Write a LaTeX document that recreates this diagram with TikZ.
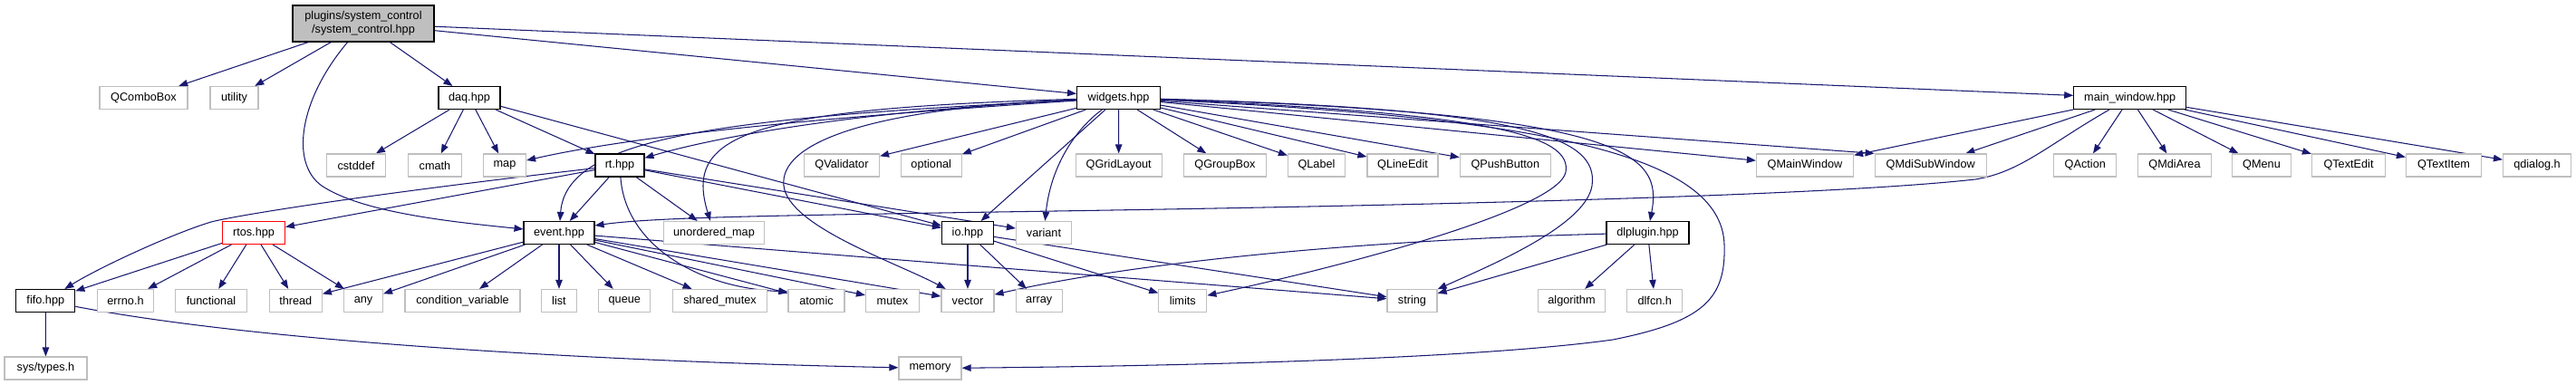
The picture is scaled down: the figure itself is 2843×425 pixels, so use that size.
\documentclass[tikz,border=0pt]{standalone}
\usepackage{fontspec}
\setmainfont{Liberation Sans}
\usetikzlibrary{arrows.meta,backgrounds}
\definecolor{edgeblue}{HTML}{191970}
\definecolor{extgray}{HTML}{BFBFBF}
\begin{document}
\begin{tikzpicture}[x=1pt,y=-1pt,
  box/.style={draw=black, line width=1.05pt, minimum height=25pt, inner sep=0pt, fill=white, font=\fontsize{12.7}{15}\selectfont},
  ext/.style={box, draw=extgray, line width=1.2pt},
  dep/.style={draw=edgeblue, line width=1.05pt, -{Triangle[length=10pt,width=7.5pt]}}]
\useasboundingbox (0,0) rectangle (2843,425);
% row 0
\node[box, fill=extgray, minimum width=156pt, minimum height=40pt, align=center] (root) at (401,26) {plugins/system\_control\\/system\_control.hpp};
% row 1
\node[ext, minimum width=97pt] (qcombo) at (158.5,108) {QComboBox};
\node[ext, minimum width=53pt] (utility) at (258.5,108) {utility};
\node[box, minimum width=68pt] (daq) at (518,108) {daq.hpp};
\node[box, minimum width=92pt] (widgets) at (1234.5,108) {widgets.hpp};
\node[box, minimum width=124pt] (mainwin) at (2350.7,108) {main\_window.hpp};
% row 2
\node[ext, minimum width=65pt] (cstddef) at (393,182.5) {cstddef};
\node[ext, minimum width=59pt] (cmath) at (480,182.5) {cmath};
\node[ext, minimum width=47pt] (map) at (557,182.5) {map};
\node[box, minimum width=54pt] (rt) at (684,182.5) {rt.hpp};
\node[ext, minimum width=83pt] (qvalid) at (929,182.5) {QValidator};
\node[ext, minimum width=67pt] (optional) at (1027.7,182.5) {optional};
\node[ext, minimum width=95pt] (qgrid) at (1234.7,182.5) {QGridLayout};
\node[ext, minimum width=91pt] (qgroup) at (1352,182.5) {QGroupBox};
\node[ext, minimum width=63pt] (qlabel) at (1453,182.5) {QLabel};
\node[ext, minimum width=78pt] (qline) at (1548,182.5) {QLineEdit};
\node[ext, minimum width=100pt] (qpush) at (1661.3,182.5) {QPushButton};
\node[ext, minimum width=107pt] (qmainw) at (1992,182.5) {QMainWindow};
\node[ext, minimum width=123pt] (qmdisub) at (2130.7,182.5) {QMdiSubWindow};
\node[ext, minimum width=69pt] (qaction) at (2301.3,182.5) {QAction};
\node[ext, minimum width=81pt] (qmdiarea) at (2400,182.5) {QMdiArea};
\node[ext, minimum width=65pt] (qmenu) at (2496,182.5) {QMenu};
\node[ext, minimum width=81pt] (qtextedit) at (2592,182.5) {QTextEdit};
\node[ext, minimum width=83pt] (qtextitem) at (2697,182.5) {QTextItem};
\node[ext, minimum width=75pt] (qdialog) at (2800,182.5) {qdialog.h};
% row 3
\node[box, draw=red, minimum width=69pt] (rtos) at (280,257) {rtos.hpp};
\node[box, minimum width=78pt] (event) at (617,257) {event.hpp};
\node[ext, minimum width=111pt] (umap) at (788,257) {unordered\_map};
\node[box, minimum width=57pt] (io) at (1068,257) {io.hpp};
\node[ext, minimum width=61pt] (variant) at (1152,257) {variant};
\node[box, minimum width=91pt] (dlplugin) at (1818.5,257) {dlplugin.hpp};
% row 4
\node[box, minimum width=65pt] (fifo) at (50.3,332) {fifo.hpp};
\node[ext, minimum width=62pt] (errno) at (138.5,332) {errno.h};
\node[ext, minimum width=79pt] (functional) at (233,332) {functional};
\node[ext, minimum width=58pt] (thread) at (326.3,332) {thread};
\node[ext, minimum width=43pt] (any) at (401,332) {any};
\node[ext, minimum width=127pt] (condvar) at (510.5,332) {condition\_variable};
\node[ext, minimum width=39pt] (list) at (617,332) {list};
\node[ext, minimum width=57pt] (queue) at (689.3,332) {queue};
\node[ext, minimum width=104pt] (shmutex) at (794.5,332) {shared\_mutex};
\node[ext, minimum width=62pt] (atomic) at (901,332) {atomic};
\node[ext, minimum width=59pt] (mutex) at (985,332) {mutex};
\node[ext, minimum width=58pt] (vector) at (1068,332) {vector};
\node[ext, minimum width=51pt] (array) at (1146.7,332) {array};
\node[ext, minimum width=53pt] (limits) at (1305.3,332) {limits};
\node[ext, minimum width=55pt] (string) at (1558.5,332) {string};
\node[ext, minimum width=74pt] (algorithm) at (1734.5,332) {algorithm};
\node[ext, minimum width=61pt] (dlfcn) at (1826.3,332) {dlfcn.h};
% row 5
\node[ext, minimum width=91pt] (systypes) at (50.5,406.5) {sys/types.h};
\node[ext, minimum width=69pt] (memory) at (1026.5,406.5) {memory};

\begin{pgfonlayer}{background}
% root
\draw[dep] (root) -- (qcombo);
\draw[dep] (root) -- (utility);
\draw[dep] (root) -- (daq);
\draw[dep] (root) -- (widgets);
\draw[dep] (root) -- (mainwin);
\draw[dep] (root) .. controls (330,110) and (320,180) .. (355,205) .. controls (400,235) and (500,245) .. (event);
% daq
\draw[dep] (daq) -- (cstddef);
\draw[dep] (daq) -- (cmath);
\draw[dep] (daq) -- (map);
\draw[dep] (daq) -- (rt);
\draw[dep] (daq) -- (io);
% widgets
\draw[dep] (widgets) .. controls (900,130) and (700,150) .. (map);
\draw[dep] (widgets) .. controls (800,130) and (625,150) .. (event);
\draw[dep] (widgets) .. controls (900,125) and (760,160) .. (rt);
\draw[dep] (widgets) .. controls (820,120) and (755,150) .. (umap);
\draw[dep] (widgets) -- (qvalid);
\draw[dep] (widgets) -- (optional);
\draw[dep] (widgets) -- (io);
\draw[dep] (widgets) .. controls (1190,140) and (1160,180) .. (variant);
\draw[dep] (widgets) -- (qgrid);
\draw[dep] (widgets) -- (qgroup);
\draw[dep] (widgets) -- (qlabel);
\draw[dep] (widgets) -- (qline);
\draw[dep] (widgets) -- (qpush);
\draw[dep] (widgets) -- (qmainw);
\draw[dep] (widgets) -- (qmdisub.north west);
\draw[dep] (widgets) .. controls (1800,125) and (1835,170) .. (dlplugin);
\draw[dep] (widgets) .. controls (1650,125) and (1735,150) .. (1728,190) .. controls (1720,230) and (1500,290) .. (limits);
\draw[dep] (widgets) .. controls (1680,120) and (1765,150) .. (1757,205) .. controls (1750,250) and (1640,295) .. (string);
\draw[dep] (widgets) .. controls (1700,130) and (1900,170) .. (1903,270) .. controls (1905,330) and (1880,355) .. (1780,375) .. controls (1600,400) and (1200,405) .. (memory);
\draw[dep] (widgets) .. controls (950,120) and (860,160) .. (865,205) .. controls (870,250) and (990,290) .. (vector);
% main window
\draw[dep] (mainwin) -- (qmainw);
\draw[dep] (mainwin) -- (qmdisub);
\draw[dep] (mainwin) -- (qaction);
\draw[dep] (mainwin) -- (qmdiarea);
\draw[dep] (mainwin) -- (qmenu);
\draw[dep] (mainwin) -- (qtextedit);
\draw[dep] (mainwin) -- (qtextitem);
\draw[dep] (mainwin) -- (qdialog);
\draw[dep] (mainwin) .. controls (2260,160) and (2230,190) .. (2180,198) .. controls (2000,218) and (1500,228) .. (1100,234) .. controls (850,238) and (720,240) .. ([yshift=8pt]event.east);
% rt
\draw[dep] (rt) -- (rtos);
\draw[dep] (rt) .. controls (400,215) and (260,238) .. (233,245) .. controls (190,258) and (110,295) .. (fifo);
\draw[dep] (rt) -- (event);
\draw[dep] (rt) -- (umap);
\draw[dep] (rt) -- (io);
\draw[dep] (rt) -- (variant);
\draw[dep] (rt) .. controls (690,270) and (770,318) .. ([yshift=-3pt]atomic.north west);
% rtos
\draw[dep] (rtos) -- (fifo);
\draw[dep] (rtos) -- (errno);
\draw[dep] (rtos) -- (functional);
\draw[dep] (rtos) -- (thread);
\draw[dep] (rtos) -- (any);
% event
\draw[dep] (event) -- (thread);
\draw[dep] (event) -- (any);
\draw[dep] (event) -- (condvar);
\draw[dep] (event) -- (list);
\draw[dep] (event) -- (queue);
\draw[dep] (event) -- (shmutex);
\draw[dep] (event) -- (atomic);
\draw[dep] (event) -- (mutex);
\draw[dep] (event) -- (vector);
\draw[dep] (event) -- (string);
% io
\draw[dep] (io) -- (vector);
\draw[dep] (io) -- (array);
\draw[dep] (io) -- (limits);
\draw[dep] (io) -- (string);
% dlplugin
\draw[dep] (dlplugin) -- (string);
\draw[dep] (dlplugin) -- (algorithm);
\draw[dep] (dlplugin) -- (dlfcn);
\draw[dep] (dlplugin) .. controls (1500,265) and (1250,290) .. (vector);
% fifo
\draw[dep] (fifo) -- (systypes);
\draw[dep] (fifo) .. controls (300,380) and (700,400) .. (memory);
\end{pgfonlayer}
\end{tikzpicture}
\end{document}
